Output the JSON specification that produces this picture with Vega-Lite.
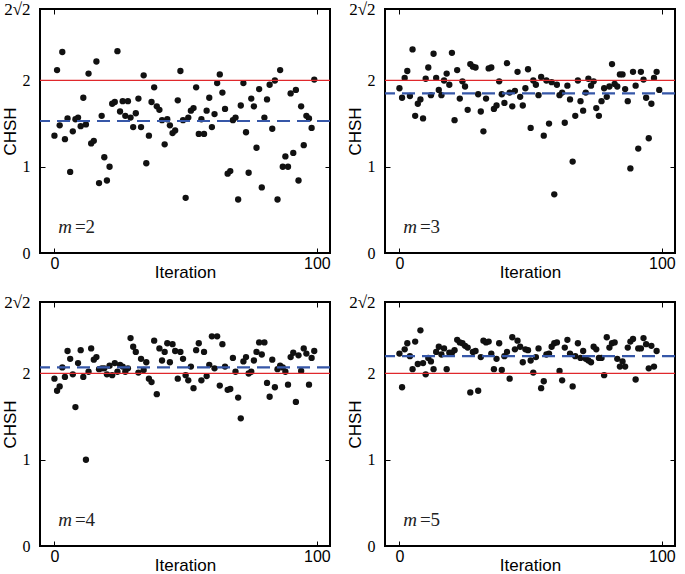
{
"$schema": "https://vega.github.io/schema/vega-lite/v6.json",
"background": "white",
"padding": {"top": -1, "left": 0, "right": 0, "bottom": 0},
"datasets": {
"m2": [{"i":0,"v":1.36},{"i":1,"v":2.12},{"i":2,"v":1.48},{"i":3,"v":2.33},{"i":4,"v":1.32},{"i":5,"v":1.56},{"i":6,"v":0.94},{"i":7,"v":1.41},{"i":8,"v":1.55},{"i":9,"v":1.57},
{"i":10,"v":1.47},{"i":11,"v":1.80},{"i":12,"v":1.49},{"i":13,"v":2.08},{"i":14,"v":1.27},{"i":15,"v":1.30},{"i":16,"v":2.22},{"i":17,"v":0.81},{"i":18,"v":1.59},{"i":19,"v":1.11},
{"i":20,"v":0.84},{"i":21,"v":1.00},{"i":22,"v":1.73},{"i":23,"v":1.75},{"i":24,"v":2.34},{"i":25,"v":1.64},{"i":26,"v":1.76},{"i":27,"v":1.59},{"i":28,"v":1.76},{"i":29,"v":1.57},
{"i":30,"v":1.46},{"i":31,"v":1.62},{"i":32,"v":1.79},{"i":33,"v":1.46},{"i":34,"v":2.06},{"i":35,"v":1.04},{"i":36,"v":1.36},{"i":37,"v":1.75},{"i":38,"v":1.92},{"i":39,"v":1.70},
{"i":40,"v":1.66},{"i":41,"v":1.54},{"i":42,"v":1.26},{"i":43,"v":1.55},{"i":44,"v":1.48},{"i":45,"v":1.39},{"i":46,"v":1.42},{"i":47,"v":1.77},{"i":48,"v":2.11},{"i":49,"v":1.54},
{"i":50,"v":0.64},{"i":51,"v":1.57},{"i":52,"v":1.65},{"i":53,"v":1.68},{"i":54,"v":1.92},{"i":55,"v":1.38},{"i":56,"v":1.55},{"i":57,"v":1.38},{"i":58,"v":1.65},{"i":59,"v":1.80},
{"i":60,"v":1.46},{"i":61,"v":1.61},{"i":62,"v":1.97},{"i":63,"v":2.07},{"i":64,"v":1.86},{"i":65,"v":1.67},{"i":66,"v":0.92},{"i":67,"v":0.95},{"i":68,"v":1.54},{"i":69,"v":1.57},
{"i":70,"v":0.62},{"i":71,"v":1.71},{"i":72,"v":1.97},{"i":73,"v":1.40},{"i":74,"v":0.93},{"i":75,"v":1.79},{"i":76,"v":1.70},{"i":77,"v":1.22},{"i":78,"v":1.90},{"i":79,"v":0.76},
{"i":80,"v":1.57},{"i":81,"v":1.78},{"i":82,"v":1.95},{"i":83,"v":1.44},{"i":84,"v":2.00},{"i":85,"v":0.62},{"i":86,"v":2.12},{"i":87,"v":1.00},{"i":88,"v":1.12},{"i":89,"v":1.00},
{"i":90,"v":1.85},{"i":91,"v":1.16},{"i":92,"v":1.89},{"i":93,"v":0.84},{"i":94,"v":1.70},{"i":95,"v":1.25},{"i":96,"v":1.59},{"i":97,"v":1.56},{"i":98,"v":1.45},{"i":99,"v":2.01}],
"m3": [{"i":0,"v":1.91},{"i":1,"v":1.80},{"i":2,"v":2.03},{"i":3,"v":2.11},{"i":4,"v":1.82},{"i":5,"v":2.36},{"i":6,"v":1.59},{"i":7,"v":1.73},{"i":8,"v":1.78},{"i":9,"v":1.56},
{"i":10,"v":2.02},{"i":11,"v":2.15},{"i":12,"v":1.83},{"i":13,"v":2.31},{"i":14,"v":2.03},{"i":15,"v":1.89},{"i":16,"v":1.83},{"i":17,"v":2.00},{"i":18,"v":2.08},{"i":19,"v":1.95},
{"i":20,"v":2.32},{"i":21,"v":1.54},{"i":22,"v":2.12},{"i":23,"v":1.79},{"i":24,"v":1.99},{"i":25,"v":1.93},{"i":26,"v":1.66},{"i":27,"v":2.19},{"i":28,"v":2.16},{"i":29,"v":2.15},
{"i":30,"v":1.84},{"i":31,"v":1.64},{"i":32,"v":1.41},{"i":33,"v":1.79},{"i":34,"v":2.14},{"i":35,"v":2.15},{"i":36,"v":1.67},{"i":37,"v":1.71},{"i":38,"v":1.99},{"i":39,"v":1.84},
{"i":40,"v":1.74},{"i":41,"v":2.20},{"i":42,"v":1.86},{"i":43,"v":1.70},{"i":44,"v":1.88},{"i":45,"v":2.10},{"i":46,"v":1.81},{"i":47,"v":1.71},{"i":48,"v":1.91},{"i":49,"v":2.13},
{"i":50,"v":1.45},{"i":51,"v":2.00},{"i":52,"v":1.95},{"i":53,"v":1.83},{"i":54,"v":2.04},{"i":55,"v":1.36},{"i":56,"v":2.00},{"i":57,"v":1.50},{"i":58,"v":1.98},{"i":59,"v":0.68},
{"i":60,"v":1.95},{"i":61,"v":1.83},{"i":62,"v":1.86},{"i":63,"v":1.51},{"i":64,"v":1.94},{"i":65,"v":1.78},{"i":66,"v":1.06},{"i":67,"v":1.59},{"i":68,"v":2.00},{"i":69,"v":1.76},
{"i":70,"v":1.65},{"i":71,"v":1.86},{"i":72,"v":2.02},{"i":73,"v":1.94},{"i":74,"v":1.99},{"i":75,"v":1.68},{"i":76,"v":1.59},{"i":77,"v":1.76},{"i":78,"v":1.91},{"i":79,"v":1.81},
{"i":80,"v":1.93},{"i":81,"v":2.19},{"i":82,"v":1.96},{"i":83,"v":1.93},{"i":84,"v":2.07},{"i":85,"v":2.07},{"i":86,"v":1.90},{"i":87,"v":1.76},{"i":88,"v":0.98},{"i":89,"v":2.10},
{"i":90,"v":1.94},{"i":91,"v":1.21},{"i":92,"v":2.10},{"i":93,"v":2.01},{"i":94,"v":1.80},{"i":95,"v":1.33},{"i":96,"v":1.73},{"i":97,"v":2.03},{"i":98,"v":2.10},{"i":99,"v":1.89}],
"m4": [{"i":0,"v":1.94},{"i":1,"v":1.80},{"i":2,"v":1.85},{"i":3,"v":2.07},{"i":4,"v":1.96},{"i":5,"v":2.26},{"i":6,"v":2.17},{"i":7,"v":1.99},{"i":8,"v":1.61},{"i":9,"v":2.12},
{"i":10,"v":2.27},{"i":11,"v":1.96},{"i":12,"v":1.00},{"i":13,"v":2.02},{"i":14,"v":2.29},{"i":15,"v":2.16},{"i":16,"v":2.19},{"i":17,"v":2.05},{"i":18,"v":2.06},{"i":19,"v":2.06},
{"i":20,"v":1.99},{"i":21,"v":2.09},{"i":22,"v":1.98},{"i":23,"v":2.12},{"i":24,"v":2.02},{"i":25,"v":2.10},{"i":26,"v":2.08},{"i":27,"v":2.02},{"i":28,"v":2.06},{"i":29,"v":2.41},
{"i":30,"v":2.31},{"i":31,"v":2.25},{"i":32,"v":2.01},{"i":33,"v":2.17},{"i":34,"v":2.04},{"i":35,"v":2.13},{"i":36,"v":1.94},{"i":37,"v":1.90},{"i":38,"v":2.38},{"i":39,"v":1.76},
{"i":40,"v":2.29},{"i":41,"v":2.15},{"i":42,"v":2.25},{"i":43,"v":2.35},{"i":44,"v":2.13},{"i":45,"v":2.34},{"i":46,"v":2.26},{"i":47,"v":1.94},{"i":48,"v":2.25},{"i":49,"v":2.17},
{"i":50,"v":1.98},{"i":51,"v":1.92},{"i":52,"v":2.08},{"i":53,"v":1.83},{"i":54,"v":2.27},{"i":55,"v":2.35},{"i":56,"v":1.92},{"i":57,"v":2.25},{"i":58,"v":1.97},{"i":59,"v":2.10},
{"i":60,"v":2.43},{"i":61,"v":2.06},{"i":62,"v":2.43},{"i":63,"v":1.86},{"i":64,"v":2.34},{"i":65,"v":2.08},{"i":66,"v":1.81},{"i":67,"v":1.82},{"i":68,"v":2.18},{"i":69,"v":2.02},
{"i":70,"v":1.72},{"i":71,"v":1.48},{"i":72,"v":2.14},{"i":73,"v":2.19},{"i":74,"v":2.00},{"i":75,"v":2.02},{"i":76,"v":2.15},{"i":77,"v":2.25},{"i":78,"v":2.36},{"i":79,"v":2.22},
{"i":80,"v":2.36},{"i":81,"v":1.89},{"i":82,"v":1.73},{"i":83,"v":2.16},{"i":84,"v":1.84},{"i":85,"v":2.05},{"i":86,"v":2.09},{"i":87,"v":2.07},{"i":88,"v":2.02},{"i":89,"v":1.87},
{"i":90,"v":2.19},{"i":91,"v":2.24},{"i":92,"v":1.67},{"i":93,"v":2.21},{"i":94,"v":2.03},{"i":95,"v":2.29},{"i":96,"v":2.23},{"i":97,"v":1.87},{"i":98,"v":2.18},{"i":99,"v":2.26}],
"m5": [{"i":0,"v":2.23},{"i":1,"v":1.84},{"i":2,"v":2.28},{"i":3,"v":2.35},{"i":4,"v":2.20},{"i":5,"v":2.05},{"i":6,"v":2.37},{"i":7,"v":2.11},{"i":8,"v":2.50},{"i":9,"v":2.12},
{"i":10,"v":1.99},{"i":11,"v":2.18},{"i":12,"v":2.14},{"i":13,"v":2.05},{"i":14,"v":2.25},{"i":15,"v":2.31},{"i":16,"v":2.22},{"i":17,"v":2.29},{"i":18,"v":2.05},{"i":19,"v":2.24},
{"i":20,"v":2.24},{"i":21,"v":2.27},{"i":22,"v":2.39},{"i":23,"v":2.36},{"i":24,"v":2.35},{"i":25,"v":2.32},{"i":26,"v":2.30},{"i":27,"v":1.78},{"i":28,"v":2.25},{"i":29,"v":2.26},
{"i":30,"v":1.80},{"i":31,"v":2.19},{"i":32,"v":2.38},{"i":33,"v":2.36},{"i":34,"v":2.37},{"i":35,"v":2.23},{"i":36,"v":2.05},{"i":37,"v":2.17},{"i":38,"v":2.35},{"i":39,"v":2.04},
{"i":40,"v":2.20},{"i":41,"v":2.25},{"i":42,"v":1.94},{"i":43,"v":2.42},{"i":44,"v":2.28},{"i":45,"v":2.38},{"i":46,"v":2.31},{"i":47,"v":2.13},{"i":48,"v":2.28},{"i":49,"v":2.27},
{"i":50,"v":2.15},{"i":51,"v":2.01},{"i":52,"v":2.19},{"i":53,"v":2.29},{"i":54,"v":1.83},{"i":55,"v":1.91},{"i":56,"v":2.22},{"i":57,"v":2.23},{"i":58,"v":2.31},{"i":59,"v":2.35},
{"i":60,"v":2.36},{"i":61,"v":2.03},{"i":62,"v":1.92},{"i":63,"v":2.30},{"i":64,"v":2.39},{"i":65,"v":2.23},{"i":66,"v":1.85},{"i":67,"v":2.20},{"i":68,"v":2.35},{"i":69,"v":2.18},
{"i":70,"v":2.26},{"i":71,"v":2.17},{"i":72,"v":2.15},{"i":73,"v":2.13},{"i":74,"v":2.31},{"i":75,"v":2.28},{"i":76,"v":2.18},{"i":77,"v":2.18},{"i":78,"v":1.98},{"i":79,"v":2.42},
{"i":80,"v":2.30},{"i":81,"v":2.35},{"i":82,"v":2.36},{"i":83,"v":2.17},{"i":84,"v":2.08},{"i":85,"v":2.14},{"i":86,"v":2.08},{"i":87,"v":2.30},{"i":88,"v":2.37},{"i":89,"v":2.40},
{"i":90,"v":1.93},{"i":91,"v":2.29},{"i":92,"v":2.29},{"i":93,"v":2.41},{"i":94,"v":2.34},{"i":95,"v":2.06},{"i":96,"v":2.32},{"i":97,"v":2.08},{"i":98,"v":2.26}]
},
"vconcat": [
{"hconcat": [
{"width": 290, "height": 244, "resolve": {"axis": {"x": "independent", "y": "independent"}},
"layer": [
{"data": {"name": "m2"}, "mark": {"type": "circle", "color": "#111111", "size": 40, "opacity": 1},
"encoding": {"x": {"field": "i", "type": "quantitative", "scale": {"domain": [-5.5, 105], "nice": false, "zero": false}, "axis": {"orient": "bottom", "values": [0, 100], "title": "Iteration", "titleY": 11}},
"y": {"field": "v", "type": "quantitative", "scale": {"domain": [0, 2.8284271], "nice": false, "zero": false}, "axis": {"orient": "left", "values": [0, 1, 2, 2.8284271], "labelExpr": "datum.value > 2.5 ? '2√2' : '' + datum.value", "labelFontSize": {"condition": {"test": "datum.value > 2.5", "value": 17}, "value": 16}, "title": "CHSH", "titleX": -25, "titleBaseline": "alphabetic"}}}},
{"data": {"name": "m2"}, "mark": {"type": "circle", "opacity": 0},
"encoding": {"x": {"field": "i", "type": "quantitative", "scale": {"domain": [-5.5, 105], "nice": false, "zero": false}, "axis": {"orient": "top", "values": [0, 100], "labels": false, "title": null}},
"y": {"field": "v", "type": "quantitative", "scale": {"domain": [0, 2.8284271], "nice": false, "zero": false}, "axis": {"orient": "right", "values": [0, 1, 2], "labels": false, "title": null}}}},
{"data": {"values": [{}]}, "mark": {"type": "rule", "color": "#e0282c", "strokeWidth": 1.2}, "encoding": {"y": {"datum": 2, "axis": null}}},
{"data": {"values": [{}]}, "mark": {"type": "rule", "color": "#3657a8", "strokeWidth": 2.2, "strokeDash": [13, 7]}, "encoding": {"y": {"datum": 1.53, "axis": null}}},
{"data": {"values": [{}]}, "mark": {"type": "text", "font": "Liberation Serif", "fontStyle": "italic", "fontSize": 19, "align": "left", "baseline": "alphabetic", "color": "#222222"}, "encoding": {"x": {"datum": 1.5, "axis": null}, "y": {"datum": 0.23, "axis": null}, "text": {"value": "m"}}},
{"data": {"values": [{}]}, "mark": {"type": "text", "font": "Liberation Serif", "fontSize": 19, "align": "left", "baseline": "alphabetic", "color": "#222222"}, "encoding": {"x": {"datum": 7.8, "axis": null}, "y": {"datum": 0.23, "axis": null}, "text": {"value": "=2"}}}
]},
{"width": 290, "height": 244, "resolve": {"axis": {"x": "independent", "y": "independent"}},
"layer": [
{"data": {"name": "m3"}, "mark": {"type": "circle", "color": "#111111", "size": 40, "opacity": 1},
"encoding": {"x": {"field": "i", "type": "quantitative", "scale": {"domain": [-5.5, 105], "nice": false, "zero": false}, "axis": {"orient": "bottom", "values": [0, 100], "title": "Iteration", "titleY": 11}},
"y": {"field": "v", "type": "quantitative", "scale": {"domain": [0, 2.8284271], "nice": false, "zero": false}, "axis": {"orient": "left", "values": [0, 1, 2, 2.8284271], "labelExpr": "datum.value > 2.5 ? '2√2' : '' + datum.value", "labelFontSize": {"condition": {"test": "datum.value > 2.5", "value": 17}, "value": 16}, "title": "CHSH", "titleX": -25, "titleBaseline": "alphabetic"}}}},
{"data": {"name": "m3"}, "mark": {"type": "circle", "opacity": 0},
"encoding": {"x": {"field": "i", "type": "quantitative", "scale": {"domain": [-5.5, 105], "nice": false, "zero": false}, "axis": {"orient": "top", "values": [0, 100], "labels": false, "title": null}},
"y": {"field": "v", "type": "quantitative", "scale": {"domain": [0, 2.8284271], "nice": false, "zero": false}, "axis": {"orient": "right", "values": [0, 1, 2], "labels": false, "title": null}}}},
{"data": {"values": [{}]}, "mark": {"type": "rule", "color": "#e0282c", "strokeWidth": 1.2}, "encoding": {"y": {"datum": 2, "axis": null}}},
{"data": {"values": [{}]}, "mark": {"type": "rule", "color": "#3657a8", "strokeWidth": 2.2, "strokeDash": [13, 7]}, "encoding": {"y": {"datum": 1.85, "axis": null}}},
{"data": {"values": [{}]}, "mark": {"type": "text", "font": "Liberation Serif", "fontStyle": "italic", "fontSize": 19, "align": "left", "baseline": "alphabetic", "color": "#222222"}, "encoding": {"x": {"datum": 1.5, "axis": null}, "y": {"datum": 0.23, "axis": null}, "text": {"value": "m"}}},
{"data": {"values": [{}]}, "mark": {"type": "text", "font": "Liberation Serif", "fontSize": 19, "align": "left", "baseline": "alphabetic", "color": "#222222"}, "encoding": {"x": {"datum": 7.8, "axis": null}, "y": {"datum": 0.23, "axis": null}, "text": {"value": "=3"}}}
]}
], "spacing": 12},
{"hconcat": [
{"width": 290, "height": 244, "resolve": {"axis": {"x": "independent", "y": "independent"}},
"layer": [
{"data": {"name": "m4"}, "mark": {"type": "circle", "color": "#111111", "size": 40, "opacity": 1},
"encoding": {"x": {"field": "i", "type": "quantitative", "scale": {"domain": [-5.5, 105], "nice": false, "zero": false}, "axis": {"orient": "bottom", "values": [0, 100], "title": "Iteration", "titleY": 11}},
"y": {"field": "v", "type": "quantitative", "scale": {"domain": [0, 2.8284271], "nice": false, "zero": false}, "axis": {"orient": "left", "values": [0, 1, 2, 2.8284271], "labelExpr": "datum.value > 2.5 ? '2√2' : '' + datum.value", "labelFontSize": {"condition": {"test": "datum.value > 2.5", "value": 17}, "value": 16}, "title": "CHSH", "titleX": -25, "titleBaseline": "alphabetic"}}}},
{"data": {"name": "m4"}, "mark": {"type": "circle", "opacity": 0},
"encoding": {"x": {"field": "i", "type": "quantitative", "scale": {"domain": [-5.5, 105], "nice": false, "zero": false}, "axis": {"orient": "top", "values": [0, 100], "labels": false, "title": null}},
"y": {"field": "v", "type": "quantitative", "scale": {"domain": [0, 2.8284271], "nice": false, "zero": false}, "axis": {"orient": "right", "values": [0, 1, 2], "labels": false, "title": null}}}},
{"data": {"values": [{}]}, "mark": {"type": "rule", "color": "#e0282c", "strokeWidth": 1.2}, "encoding": {"y": {"datum": 2, "axis": null}}},
{"data": {"values": [{}]}, "mark": {"type": "rule", "color": "#3657a8", "strokeWidth": 2.2, "strokeDash": [13, 7]}, "encoding": {"y": {"datum": 2.07, "axis": null}}},
{"data": {"values": [{}]}, "mark": {"type": "text", "font": "Liberation Serif", "fontStyle": "italic", "fontSize": 19, "align": "left", "baseline": "alphabetic", "color": "#222222"}, "encoding": {"x": {"datum": 1.5, "axis": null}, "y": {"datum": 0.23, "axis": null}, "text": {"value": "m"}}},
{"data": {"values": [{}]}, "mark": {"type": "text", "font": "Liberation Serif", "fontSize": 19, "align": "left", "baseline": "alphabetic", "color": "#222222"}, "encoding": {"x": {"datum": 7.8, "axis": null}, "y": {"datum": 0.23, "axis": null}, "text": {"value": "=4"}}}
]},
{"width": 290, "height": 244, "resolve": {"axis": {"x": "independent", "y": "independent"}},
"layer": [
{"data": {"name": "m5"}, "mark": {"type": "circle", "color": "#111111", "size": 40, "opacity": 1},
"encoding": {"x": {"field": "i", "type": "quantitative", "scale": {"domain": [-5.5, 105], "nice": false, "zero": false}, "axis": {"orient": "bottom", "values": [0, 100], "title": "Iteration", "titleY": 11}},
"y": {"field": "v", "type": "quantitative", "scale": {"domain": [0, 2.8284271], "nice": false, "zero": false}, "axis": {"orient": "left", "values": [0, 1, 2, 2.8284271], "labelExpr": "datum.value > 2.5 ? '2√2' : '' + datum.value", "labelFontSize": {"condition": {"test": "datum.value > 2.5", "value": 17}, "value": 16}, "title": "CHSH", "titleX": -25, "titleBaseline": "alphabetic"}}}},
{"data": {"name": "m5"}, "mark": {"type": "circle", "opacity": 0},
"encoding": {"x": {"field": "i", "type": "quantitative", "scale": {"domain": [-5.5, 105], "nice": false, "zero": false}, "axis": {"orient": "top", "values": [0, 100], "labels": false, "title": null}},
"y": {"field": "v", "type": "quantitative", "scale": {"domain": [0, 2.8284271], "nice": false, "zero": false}, "axis": {"orient": "right", "values": [0, 1, 2], "labels": false, "title": null}}}},
{"data": {"values": [{}]}, "mark": {"type": "rule", "color": "#e0282c", "strokeWidth": 1.2}, "encoding": {"y": {"datum": 2, "axis": null}}},
{"data": {"values": [{}]}, "mark": {"type": "rule", "color": "#3657a8", "strokeWidth": 2.2, "strokeDash": [13, 7]}, "encoding": {"y": {"datum": 2.20, "axis": null}}},
{"data": {"values": [{}]}, "mark": {"type": "text", "font": "Liberation Serif", "fontStyle": "italic", "fontSize": 19, "align": "left", "baseline": "alphabetic", "color": "#222222"}, "encoding": {"x": {"datum": 1.5, "axis": null}, "y": {"datum": 0.23, "axis": null}, "text": {"value": "m"}}},
{"data": {"values": [{}]}, "mark": {"type": "text", "font": "Liberation Serif", "fontSize": 19, "align": "left", "baseline": "alphabetic", "color": "#222222"}, "encoding": {"x": {"datum": 7.8, "axis": null}, "y": {"datum": 0.23, "axis": null}, "text": {"value": "=5"}}}
]}
], "spacing": 12}
],
"spacing": 11,
"config": {
"view": {"stroke": "#000000", "strokeWidth": 2},
"axis": {"domain": false, "grid": false, "ticks": true, "tickSize": -5, "tickColor": "#000000", "tickWidth": 1, "labelColor": "#000000", "titleColor": "#000000", "titleFontWeight": "normal", "titleFont": "Liberation Sans", "titleFontSize": 17, "labelFontSize": 16},
"axisX": {"labelFont": "Liberation Sans", "labelPadding": 7},
"axisY": {"labelFont": "Liberation Serif", "labelPadding": 15}
}
}
